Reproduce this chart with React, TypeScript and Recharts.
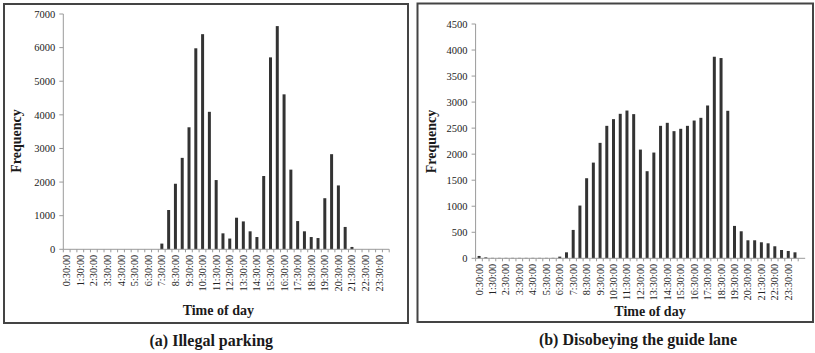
import React from 'react';
import { BarChart, Bar, XAxis, YAxis } from 'recharts';

// half-hour bins, labelled by end of bin; every other one gets a label
const TIMES = [
  '0:30:00', '1:00:00', '1:30:00', '2:00:00', '2:30:00', '3:00:00', '3:30:00', '4:00:00',
  '4:30:00', '5:00:00', '5:30:00', '6:00:00', '6:30:00', '7:00:00', '7:30:00', '8:00:00',
  '8:30:00', '9:00:00', '9:30:00', '10:00:00', '10:30:00', '11:00:00', '11:30:00', '12:00:00',
  '12:30:00', '13:00:00', '13:30:00', '14:00:00', '14:30:00', '15:00:00', '15:30:00', '16:00:00',
  '16:30:00', '17:00:00', '17:30:00', '18:00:00', '18:30:00', '19:00:00', '19:30:00', '20:00:00',
  '20:30:00', '21:00:00', '21:30:00', '22:00:00', '22:30:00', '23:00:00', '23:30:00', '24:00:00',
];

const ILLEGAL_PARKING = [
  0, 0, 0, 0, 0, 0, 0, 0, 0, 0, 0, 0, 0, 0, 170, 1170,
  1950, 2720, 3630, 5980, 6400, 4090, 2060, 475, 320, 940, 830, 535, 365, 2180, 5710, 6640,
  4610, 2370, 840, 535, 365, 335, 1520, 2830, 1900, 665, 70, 0, 0, 0, 0, 0,
];

const GUIDE_LANE = [
  45, 18, 8, 8, 8, 8, 8, 8, 8, 8, 8, 8, 32, 115, 545, 1013,
  1538, 1838, 2217, 2544, 2673, 2775, 2838, 2769, 2088, 1673, 2031, 2544, 2602, 2442, 2487, 2544,
  2646, 2698, 2935, 3871, 3846, 2833, 622, 519, 346, 346, 308, 288, 231, 160, 141, 115,
];

const PARKING_TICKS = [0, 1000, 2000, 3000, 4000, 5000, 6000, 7000];
const GUIDE_TICKS = [0, 500, 1000, 1500, 2000, 2500, 3000, 3500, 4000, 4500];

const SERIF = '"Liberation Serif", "Times New Roman", serif';
const AXIS_GREY = '#9a9a9a';
const BAR_COLOR = '#333333';

const XTick = ({ x, y, payload, band, lastIdx }: any) => {
  const idx = TIMES.indexOf(payload.value);
  return (
    <g>
      <line x1={x - band / 2} x2={x - band / 2} y1={y} y2={y + 3} stroke={AXIS_GREY} />
      {idx === lastIdx && <line x1={x + band / 2} x2={x + band / 2} y1={y} y2={y + 3} stroke={AXIS_GREY} />}
      {idx % 2 === 0 && (
        <text
          x={x + 3.6}
          y={y + 5.5}
          transform={`rotate(-90 ${x + 3.6} ${y + 5.5})`}
          textAnchor="end"
          fontSize={10.3}
          fontFamily={SERIF}
          fill="#222"
        >
          {payload.value}
        </text>
      )}
    </g>
  );
};

interface PanelProps {
  values: number[];
  ticks: number[];
  width: number;
  height: number;
  top: number;
  right: number;
  yAxisWidth: number;
  xAxisHeight: number;
  padRight: number;
}

function Panel({ values, ticks, width, height, top, right, yAxisWidth, xAxisHeight, padRight }: PanelProps) {
  const rows = TIMES.map((t, i) => ({ t, v: values[i] }));
  const band = (width - right - yAxisWidth - padRight) / TIMES.length;
  return (
    <BarChart width={width} height={height} data={rows} margin={{ top, right, left: 0, bottom: 0 }} barCategoryGap={0}>
      <XAxis
        dataKey="t"
        interval={0}
        height={xAxisHeight}
        tickSize={0}
        tickMargin={0}
        tickLine={false}
        axisLine={{ stroke: AXIS_GREY }}
        padding={{ left: 0, right: padRight }}
        tick={<XTick band={band} lastIdx={TIMES.length - 1} />}
      />
      <YAxis
        width={yAxisWidth}
        domain={[0, ticks[ticks.length - 1]]}
        ticks={ticks}
        interval={0}
        tickSize={4}
        tickMargin={4}
        axisLine={{ stroke: AXIS_GREY }}
        tickLine={{ stroke: AXIS_GREY }}
        tick={{ fontSize: 10.5, fill: '#222', fontFamily: SERIF }}
      />
      <Bar dataKey="v" fill={BAR_COLOR} barSize={3} isAnimationActive={false} />
    </BarChart>
  );
}

export default function App() {
  return (
    <div style={{ position: 'fixed', left: 0, top: 0, width: 815, height: 353, background: '#fff', fontFamily: SERIF }}>
      <div style={{ position: 'absolute', left: 0, top: 0 }}>
        <Panel
          values={ILLEGAL_PARKING}
          ticks={PARKING_TICKS}
          width={410}
          height={330}
          top={14}
          right={20.8}
          yAxisWidth={63.3}
          xAxisHeight={80.7}
          padRight={0}
        />
      </div>
      <div style={{ position: 'absolute', left: 410, top: 0 }}>
        <Panel
          values={GUIDE_LANE}
          ticks={GUIDE_TICKS}
          width={405}
          height={330}
          top={24}
          right={9.8}
          yAxisWidth={65.6}
          xAxisHeight={71.7}
          padRight={7}
        />
      </div>
      <svg width={815} height={353} style={{ position: 'absolute', left: 0, top: 0, pointerEvents: 'none' }}>
        <rect x={4} y={4} width={404} height={319} fill="none" stroke="#444" strokeWidth={2} />
        <rect x={417.5} y={3.5} width={395.5} height={318.5} fill="none" stroke="#444" strokeWidth={2} />
        <g fontFamily={SERIF} fontWeight="bold" fill="#1a1a1a">
          <text x={16.7} y={141} fontSize={14} textAnchor="middle" dominantBaseline="central" transform="rotate(-90 16.7 141)">
            Frequency
          </text>
          <text x={431.7} y={141.5} fontSize={14} textAnchor="middle" dominantBaseline="central" transform="rotate(-90 431.7 141.5)">
            Frequency
          </text>
          <text x={218.3} y={310} fontSize={14} textAnchor="middle" dominantBaseline="central">
            Time of day
          </text>
          <text x={650} y={311.7} fontSize={14} textAnchor="middle" dominantBaseline="central">
            Time of day
          </text>
          <text x={211.3} y={340} fontSize={16} textAnchor="middle" dominantBaseline="central">
            (a) Illegal parking
          </text>
          <text x={638} y={339} fontSize={16} textAnchor="middle" dominantBaseline="central">
            (b) Disobeying the guide lane
          </text>
        </g>
      </svg>
    </div>
  );
}
